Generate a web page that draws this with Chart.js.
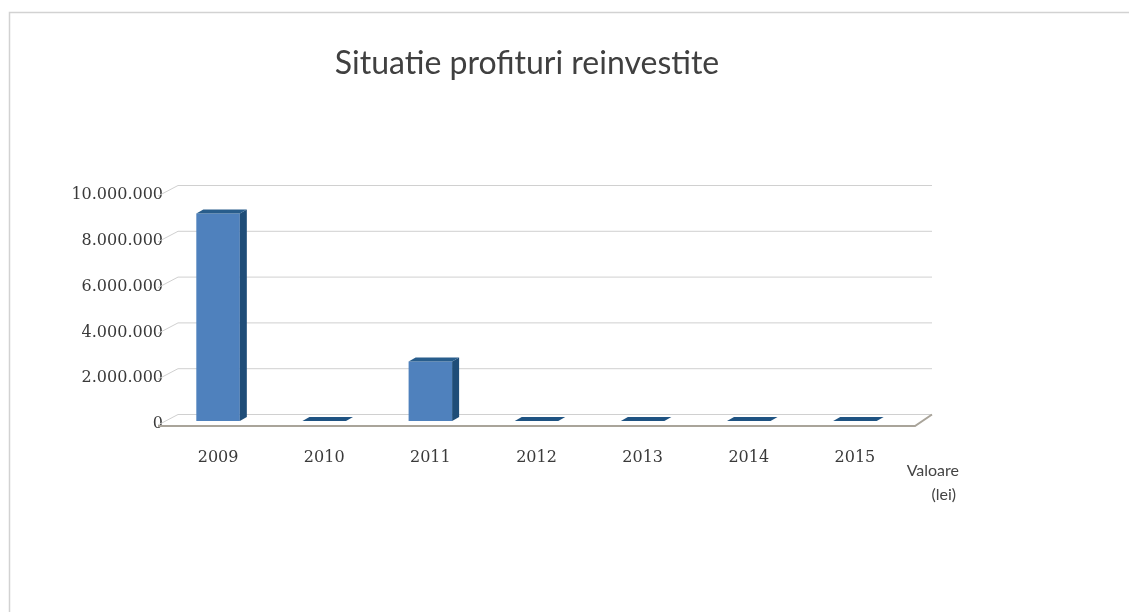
<!DOCTYPE html>
<html>
<head>
<meta charset="utf-8">
<script src="https://cdn.jsdelivr.net/npm/chart.js@4.4.1/dist/chart.umd.min.js"></script>
<style>
  html, body { margin: 0; padding: 0; background: #ffffff; }
  #wrap { position: relative; width: 1129px; height: 612px; }
</style>
</head>
<body>
<div id="wrap"><canvas id="c" width="1129" height="612"></canvas></div>
<script>
// ---- data ----
const chartTitle = 'Situatie profituri reinvestite';
const categories = ['2009', '2010', '2011', '2012', '2013', '2014', '2015'];
const values = [9060000, 0, 2600000, 0, 0, 0, 0];
const yTicks = [0, 2000000, 4000000, 6000000, 8000000, 10000000];
const seriesLabel = ['Valoare', '(lei)'];

function fmt(v) {
  return String(v).replace(/\B(?=(\d{3})+(?!\d))/g, '.');
}

const DX = 7, DY = 4;            // bar depth
const WBX = 13, WBY = 6.5;       // back wall offset
const WFX = 7, WFY = 4;          // front edge offset

const decor = {
  id: 'decor',
  beforeDraw(chart) {
    const ctx = chart.ctx;
    ctx.save();
    ctx.fillStyle = '#ffffff';
    ctx.fillRect(0, 0, chart.width, chart.height);
    ctx.strokeStyle = '#d2d2d2';
    ctx.lineWidth = 1.5;
    ctx.beginPath();
    ctx.moveTo(9.5, chart.height);
    ctx.lineTo(9.5, 12.5);
    ctx.lineTo(chart.width, 12.5);
    ctx.stroke();
    // title
    ctx.fillStyle = '#404040';
    ctx.font = '32px Lato, "Open Sans", sans-serif';
    ctx.textAlign = 'center';
    ctx.textBaseline = 'middle';
    ctx.fillText(chartTitle, 527, 64);
    ctx.restore();
  },
  beforeDatasetsDraw(chart) {
    const ctx = chart.ctx;
    const ys = chart.scales.y;
    const L = chart.chartArea.left, R = chart.chartArea.right;
    ctx.save();
    ctx.strokeStyle = '#d0d0d0';
    ctx.lineWidth = 1;
    yTicks.forEach(v => {
      const y = ys.getPixelForValue(v);
      ctx.beginPath();
      ctx.moveTo(L - WFX, y + WFY);
      ctx.lineTo(L + WBX, y - WBY);
      ctx.lineTo(R + 24, y - WBY);
      ctx.stroke();
    });
    const y0 = ys.getPixelForValue(0);
    ctx.strokeStyle = '#a9a49a';
    ctx.lineWidth = 2;
    ctx.beginPath();
    ctx.moveTo(L - WFX, y0 + 5);
    ctx.lineTo(R + 7, y0 + 5);
    ctx.lineTo(R + 24, y0 - WBY);
    ctx.stroke();
    ctx.restore();
  },
  afterDatasetsDraw(chart) {
    const ctx = chart.ctx;
    const meta = chart.getDatasetMeta(0);
    ctx.save();
    meta.data.forEach(bar => {
      const p = bar.getProps(['x', 'y', 'base', 'width'], true);
      const l = p.x - p.width / 2, r = p.x + p.width / 2;
      const top = Math.min(p.y, p.base), bot = p.base;
      if (bot - top > 0.5) {
        ctx.fillStyle = '#1f4d78';
        ctx.beginPath();
        ctx.moveTo(r, top);
        ctx.lineTo(r + DX, top - DY);
        ctx.lineTo(r + DX, bot - DY);
        ctx.lineTo(r, bot);
        ctx.closePath();
        ctx.fill();
      }
      ctx.fillStyle = (bot - top > 0.5) ? '#285d8c' : '#1f5382';
      ctx.beginPath();
      ctx.moveTo(l, top);
      ctx.lineTo(l + DX, top - DY);
      ctx.lineTo(r + DX, top - DY);
      ctx.lineTo(r, top);
      ctx.closePath();
      ctx.fill();
    });
    ctx.fillStyle = '#444444';
    ctx.font = '16px Lato, "Open Sans", sans-serif';
    ctx.textAlign = 'right';
    ctx.textBaseline = 'middle';
    const R = chart.chartArea.right;
    ctx.fillText(seriesLabel[0], R + 51, 471);
    ctx.fillText(seriesLabel[1], R + 48, 495);
    ctx.restore();
  }
};

const ctx = document.getElementById('c').getContext('2d');

new Chart(ctx, {
  type: 'bar',
  data: {
    labels: categories,
    datasets: [{
      label: seriesLabel.join(' '),
      data: values,
      backgroundColor: (c) => {
        const el = c.element;
        if (!el || !Number.isFinite(el.x) || !Number.isFinite(el.width)) return '#4f81bd';
        const w = el.width;
        const g = c.chart.ctx.createLinearGradient(el.x - w / 2, 0, el.x + w / 2, 0);
        g.addColorStop(0, '#5a8dc9');
        g.addColorStop(0.5, '#4f83c0');
        g.addColorStop(1, '#4677b1');
        return g;
      },
      borderWidth: 0,
      categoryPercentage: 1,
      barPercentage: 0.41
    }]
  },
  options: {
    responsive: false,
    animation: false,
    layout: { padding: { left: 0, right: 221, top: 192, bottom: 145 } },
    plugins: {
      legend: { display: false },
      tooltip: { enabled: false },
      title: { display: false }
    },
    scales: {
      x: {
        grid: { display: false, drawTicks: false },
        border: { display: false },
        ticks: {
          color: '#3a3a3a',
          font: { family: '"DejaVu Serif", serif', size: 16 },
          padding: 27
        },
        afterFit(s) { s.height = 46; }
      },
      y: {
        min: 0,
        max: 10000000,
        grid: { display: false, drawTicks: false },
        border: { display: false },
        afterBuildTicks(s) { s.ticks = yTicks.map(v => ({ value: v })); },
        ticks: {
          color: '#3a3a3a',
          font: { family: '"DejaVu Serif", serif', size: 16 },
          padding: 2,
          labelOffset: 3,
          callback: (v) => fmt(v)
        },
        afterFit(s) { s.width = 165; }
      }
    }
  },
  plugins: [decor]
});
</script>
</body>
</html>
